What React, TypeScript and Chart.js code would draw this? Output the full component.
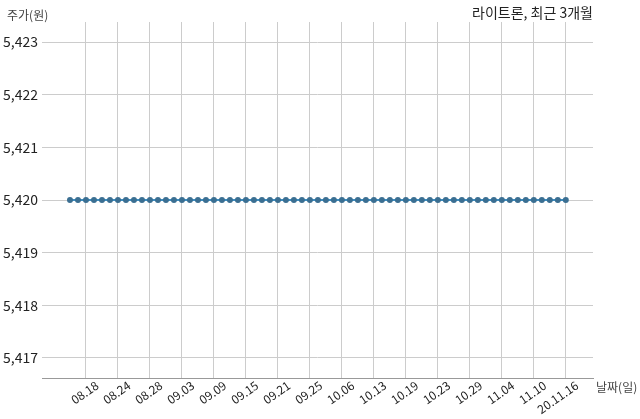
import { useEffect, useRef } from 'react'
import { Chart, registerables } from 'chart.js'

Chart.register(...registerables)

// trading days, 2020.08.13 ~ 2020.11.16
const dates = [
  '08.13', '08.14', '08.18', '08.19', '08.20', '08.21', '08.24', '08.25', '08.26', '08.27',
  '08.28', '08.31', '09.01', '09.02', '09.03', '09.04', '09.07', '09.08', '09.09', '09.10',
  '09.11', '09.14', '09.15', '09.16', '09.17', '09.18', '09.21', '09.22', '09.23', '09.24',
  '09.25', '09.28', '09.29', '10.05', '10.06', '10.07', '10.08', '10.12', '10.13', '10.14',
  '10.15', '10.16', '10.19', '10.20', '10.21', '10.22', '10.23', '10.26', '10.27', '10.28',
  '10.29', '10.30', '11.02', '11.03', '11.04', '11.05', '11.06', '11.09', '11.10', '11.11',
  '11.12', '11.13', '20.11.16',
]
const prices = [
  5420, 5420, 5420, 5420, 5420, 5420, 5420, 5420, 5420, 5420,
  5420, 5420, 5420, 5420, 5420, 5420, 5420, 5420, 5420, 5420,
  5420, 5420, 5420, 5420, 5420, 5420, 5420, 5420, 5420, 5420,
  5420, 5420, 5420, 5420, 5420, 5420, 5420, 5420, 5420, 5420,
  5420, 5420, 5420, 5420, 5420, 5420, 5420, 5420, 5420, 5420,
  5420, 5420, 5420, 5420, 5420, 5420, 5420, 5420, 5420, 5420,
  5420, 5420, 5420,
]
// indices of the dates that get a tick label
const tickIdx = [2, 6, 10, 14, 18, 22, 26, 30, 34, 38, 42, 46, 50, 54, 58, 62]

const FONT = '"Noto Sans CJK KR", "Noto Sans", sans-serif'

const labelsPlugin = {
  id: 'axisLabels',
  afterDraw(chart: Chart) {
    const { ctx, chartArea } = chart
    ctx.save()
    ctx.textBaseline = 'middle'
    ctx.fillStyle = '#444'
    ctx.font = `12px ${FONT}`
    ctx.textAlign = 'left'
    ctx.fillText('주가(원)', 7, 15)
    ctx.fillText('날짜(일)', chartArea.right + 3, chartArea.bottom + 9)
    ctx.fillStyle = '#222'
    ctx.font = `14px ${FONT}`
    ctx.textAlign = 'right'
    ctx.fillText('라이트론, 최근 3개월', chartArea.right, 13)
    ctx.restore()
  },
}

export default function App() {
  const canvasRef = useRef<HTMLCanvasElement>(null)

  useEffect(() => {
    document.body.style.margin = '0'
    if (!canvasRef.current) return
    const chart = new Chart(canvasRef.current, {
      type: 'line',
      data: {
        datasets: [{
          data: prices.map((p, i) => ({ x: i, y: p })),
          borderColor: '#3a8cc0',
          borderWidth: 2,
          pointBackgroundColor: '#3b6f92',
          pointBorderColor: '#3b6f92',
          pointRadius: 2,
        }],
      },
      plugins: [labelsPlugin],
      options: {
        animation: false,
        responsive: false,
        maintainAspectRatio: false,
        layout: { padding: { top: 22, right: 47, left: 0, bottom: 0 } },
        plugins: { legend: { display: false }, tooltip: { enabled: false } },
        scales: {
          x: {
            type: 'linear',
            min: -3.5,
            max: 65.4,
            afterBuildTicks: (scale: any) => {
              scale.ticks = tickIdx.map(v => ({ value: v }))
            },
            afterFit: (scale: any) => { scale.height = 41 },
            grid: { color: '#cccccc', lineWidth: 1, drawTicks: false },
            border: { display: true, color: '#999999', width: 1 },
            ticks: {
              autoSkip: false,
              maxRotation: 35,
              minRotation: 35,
              labelOffset: 11,
              padding: 0,
              color: '#222',
              font: { family: FONT, size: 12 },
              callback: (v: any) => dates[Number(v)] ?? '',
            },
          },
          y: {
            min: 5416.62,
            max: 5423.38,
            afterFit: (scale: any) => { scale.width = 42 },
            grid: { color: '#cccccc', lineWidth: 1, drawTicks: false },
            border: { display: false },
            ticks: {
              stepSize: 1,
              includeBounds: false,
              padding: 4,
              color: '#222',
              font: { family: FONT, size: 14 },
              callback: (v: any) => Number(v).toLocaleString('en-US'),
            },
          },
        },
      },
    })
    return () => chart.destroy()
  }, [])

  return (
    <div style={{ width: 640, height: 419 }}>
      <canvas ref={canvasRef} width={640} height={419} style={{ width: 640, height: 419 }} />
    </div>
  )
}
